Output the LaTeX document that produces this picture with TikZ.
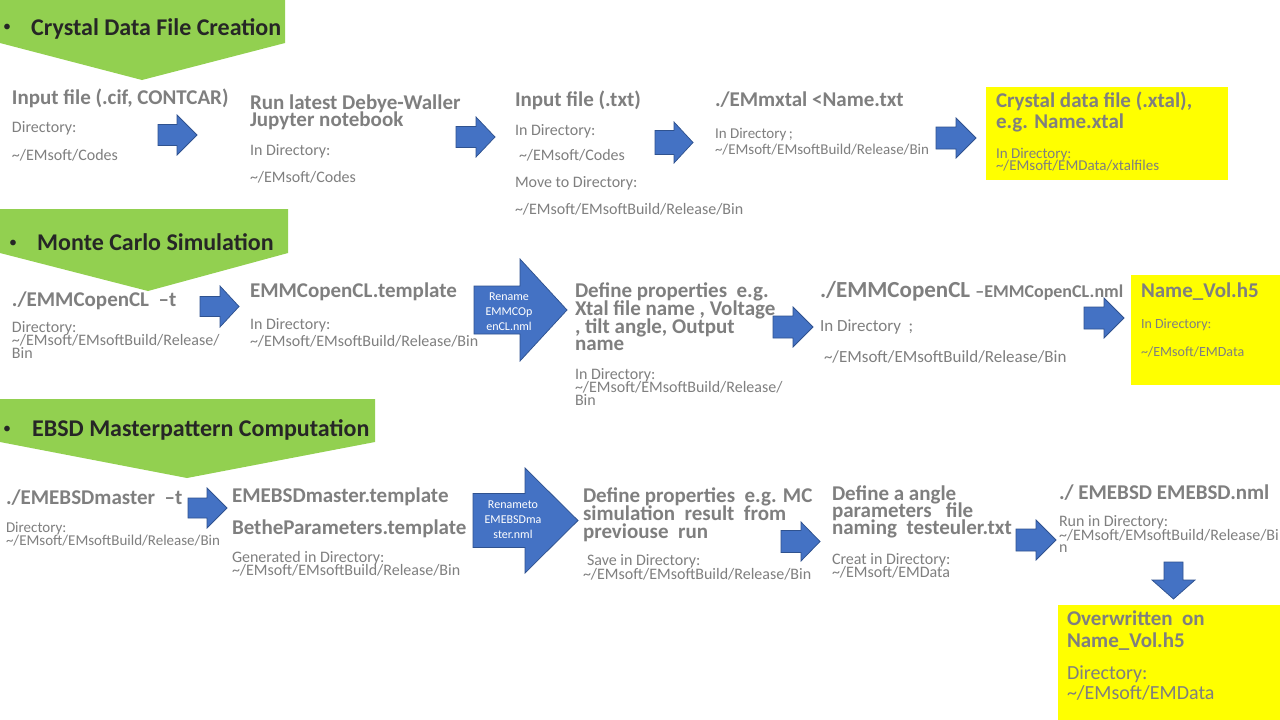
\documentclass[tikz,border=0pt]{standalone}
\usepackage{fontspec}
\setmainfont{Carlito}
\definecolor{gtxt}{HTML}{7F7F7F}
\definecolor{ttlc}{HTML}{262626}
\definecolor{grn}{HTML}{92D050}
\definecolor{ylw}{HTML}{FFFF00}
\definecolor{blu}{HTML}{4472C4}
\definecolor{bluedge}{HTML}{2F528F}
\newcommand\tld{\textasciitilde}
% right block arrow: x0, xhead, xtip, ytop, ybottom, body half height
\newcommand\blockR[6]{%
  \draw[barrow] (#1,{(#4+#5)/2-#6}) -- (#2,{(#4+#5)/2-#6}) -- (#2,#4) -- (#3,{(#4+#5)/2})
    -- (#2,#5) -- (#2,{(#4+#5)/2+#6}) -- (#1,{(#4+#5)/2+#6}) -- cycle;}
\tikzset{
  tx/.style={anchor=base west, inner sep=0pt, outer sep=0pt, text=gtxt},
  bf/.style={font=\bfseries\fontsize{#1}{#1}\selectfont},
  rg/.style={font=\fontsize{#1}{#1}\selectfont},
  ttl/.style={anchor=base west, inner sep=0pt, text=ttlc, font=\bfseries\fontsize{24}{24}\selectfont},
  bul/.style={anchor=base west, inner sep=0pt, text=ttlc, font=\fontsize{16}{16}\selectfont},
  banner/.style={fill=grn, draw=none},
  ybox/.style={fill=ylw, draw=none},
  barrow/.style={fill=blu, draw=bluedge, line width=0.75pt, line join=miter},
  atext/.style={align=center, text=white, inner sep=0pt, font=\fontsize{12}{15}\selectfont},
}
\begin{document}
\begin{tikzpicture}[x=1pt,y=-1pt]
\useasboundingbox[fill=white] (0,0) rectangle (1280,720);

% ---------------- Row 1 ----------------
\fill[banner] (0,0) -- (285,0) -- (285,43) -- (142,80) -- (0,43) -- cycle;
\node[bul] (b1) at (3,31) {•};
\node[ttl] (t1) at (31,35) {Crystal Data File Creation};

\node[tx,bf=21] (a1) at (12,104) {Input file (.cif, CONTCAR)};
\node[tx,rg=16] (a2) at (12,132) {Directory:};
\node[tx,rg=16] (a3) at (12,160) {\tld/EMsoft/Codes};
\blockR{158}{177}{197}{115}{155}{10.5}

\node[tx,bf=21] (c1) at (250,109) {Run latest Debye-Waller};
\node[tx,bf=21] (c2) at (250,126.5) {Jupyter notebook};
\node[tx,rg=16] (c3) at (250,155) {In Directory:};
\node[tx,rg=16] (c4) at (250,182) {\tld/EMsoft/Codes};
\blockR{456}{476}{495}{117}{157}{10.5}

\node[tx,bf=21] (d1) at (515,106) {Input file (.txt)};
\node[tx,rg=16] (d2) at (515,135) {In Directory:};
\node[tx,rg=16] (d3) at (519,160) {\tld/EMsoft/Codes};
\node[tx,rg=16] (d4) at (515,187) {Move to Directory:};
\node[tx,rg=16] (d5) at (515,214) {\tld/EMsoft/EMsoftBuild/Release/Bin};
\blockR{655}{674}{693}{122}{163}{12}

\node[tx,bf=21] (e1) at (715,106) {./EMmxtal <Name.txt};
\node[tx,rg=15] (e2) at (715,138) {In Directory\,;};
\node[tx,rg=15] (e3) at (715,154) {\tld/EMsoft/EMsoftBuild/Release/Bin};
\blockR{936}{956}{976}{118}{158}{11}

\fill[ybox] (986,87) rectangle (1228,180);
\node[tx,bf=21] (f1) at (996,107) {Crystal data file (.xtal),};
\node[tx,bf=21] (f2) at (996,128) {e.g. Name.xtal};
\node[tx,rg=15] (f3) at (996,158) {In Directory:};
\node[tx,rg=15] (f4) at (996,170) {\tld/EMsoft/EMData/xtalfiles};

% ---------------- Row 2 ----------------
\fill[banner] (0,209) -- (288,209) -- (288,253) -- (148,291) -- (0,253) -- cycle;
\node[bul] (b2) at (9,247) {•};
\node[ttl] (t2) at (37,250) {Monte Carlo Simulation};

\node[tx,bf=21] (g1) at (12,306) {./EMMCopenCL\ \ –t};
\node[tx,rg=16] (g2) at (12,332) {Directory:};
\node[tx,rg=16] (g3) at (12,345) {\tld/EMsoft/EMsoftBuild/Release/};
\node[tx,rg=16] (g4) at (12,358) {Bin};
\blockR{200}{220}{239}{286}{327}{10}

\node[tx,bf=21] (h1) at (250,297) {EMMCopenCL.template};
\node[tx,rg=16] (h2) at (250,329) {In Directory:};
\node[tx,rg=16] (h3) at (250,346) {\tld/EMsoft/EMsoftBuild/Release/Bin};

\blockR{474}{520}{567}{259}{361}{24}
\node[atext] (r1) at (509,312) {Rename\\EMMCOp\\enCL.nml};

\node[tx,bf=21] (i1) at (575,297) {Define properties\ \ e.g.};
\node[tx,bf=21] (i2) at (575,315) {Xtal file name , Voltage};
\node[tx,bf=21] (i3) at (575,333) {, tilt angle, Output};
\node[tx,bf=21] (i4) at (575,350) {name};
\node[tx,rg=16] (i5) at (575,379) {In Directory:};
\node[tx,rg=16] (i6) at (575,392) {\tld/EMsoft/EMsoftBuild/Release/};
\node[tx,rg=16] (i7) at (575,405) {Bin};
\blockR{773}{793}{813}{307}{347}{11}

\node[tx] (j1) at (820,297) {{\bfseries\fontsize{23}{23}\selectfont ./EMMCopenCL }{\bfseries\fontsize{18}{18}\selectfont –EMMCopenCL.nml}};
\node[tx,rg=17] (j2) at (820,331) {In Directory\ \ ;};
\node[tx,rg=17] (j3) at (824,362) {\tld/EMsoft/EMsoftBuild/Release/Bin};
\blockR{1084}{1104}{1124}{298}{338}{11}

\fill[ybox] (1131,275) rectangle (1280,385);
\node[tx,bf=21] (k1) at (1141,297) {Name\_Vol.h5};
\node[tx,rg=14] (k2) at (1141,328) {In Directory:};
\node[tx,rg=14] (k3) at (1141,356) {\tld/EMsoft/EMData};

% ---------------- Row 3 ----------------
\fill[banner] (0,399) -- (375,399) -- (375,442) -- (187,478) -- (0,442) -- cycle;
\node[bul] (b3) at (3,433) {•};
\node[ttl] (t3) at (32,436) {EBSD Masterpattern Computation};

\node[tx,bf=21] (l1) at (6,504) {./EMEBSDmaster\ \ –t};
\node[tx,rg=15] (l2) at (6,532) {Directory:};
\node[tx,rg=15] (l3) at (6,545) {\tld/EMsoft/EMsoftBuild/Release/Bin};
\blockR{188}{207}{227}{488}{528}{10}

\node[tx,bf=21] (m1) at (232,502) {EMEBSDmaster.template};
\node[tx,bf=21] (m2) at (232,534) {BetheParameters.template};
\node[tx,rg=16] (m3) at (232,562) {Generated in Directory:};
\node[tx,rg=16] (m4) at (232,575) {\tld/EMsoft/EMsoftBuild/Release/Bin};

\blockR{473}{525}{578}{468}{573}{27}
\node[atext] (r2) at (513,520) {Renameto\\EMEBSDma\\ster.nml};

\node[tx,bf=21] (n1) at (583,502) {Define properties\ \ e.g. MC};
\node[tx,bf=21] (n2) at (583,520) {simulation\ \ result\ \ from};
\node[tx,bf=21] (n3) at (583,538) {previouse\ \ run};
\node[tx,rg=16] (n4) at (587,565) {Save in Directory:};
\node[tx,rg=16] (n5) at (583,579) {\tld/EMsoft/EMsoftBuild/Release/Bin};
\blockR{781}{801}{820}{522}{561}{11}

\node[tx,bf=21] (o1) at (832,500) {Define a angle};
\node[tx,bf=21] (o2) at (832,517) {parameters\ \ \ file};
\node[tx,bf=21] (o3) at (832,534) {naming\ \ testeuler.txt};
\node[tx,rg=16] (o4) at (832,564) {Creat in Directory:};
\node[tx,rg=16] (o5) at (832,577) {\tld/EMsoft/EMData};
\blockR{1016}{1036}{1056}{520}{560}{11}

\node[tx,bf=21] (p1) at (1059,499) {./ EMEBSD EMEBSD.nml};
\node[tx,rg=16] (p2) at (1059,526) {Run in Directory:};
\node[tx,rg=16] (p3) at (1059,540) {\tld/EMsoft/EMsoftBuild/Release/Bi};
\node[tx,rg=16] (p4) at (1059,552) {n};
\draw[barrow] (1164,562) -- (1183,562) -- (1183,580) -- (1195,580) -- (1173.5,599)
  -- (1152,580) -- (1164,580) -- cycle;

\fill[ybox] (1058,605) rectangle (1280,720);
\node[tx,bf=21] (q1) at (1067,625) {Overwritten\ \ on};
\node[tx,bf=21] (q2) at (1067,647) {Name\_Vol.h5};
\node[tx,rg=20] (q3) at (1067,679) {Directory:};
\node[tx,rg=20] (q4) at (1067,699) {\tld/EMsoft/EMData};
\end{tikzpicture}
\end{document}
